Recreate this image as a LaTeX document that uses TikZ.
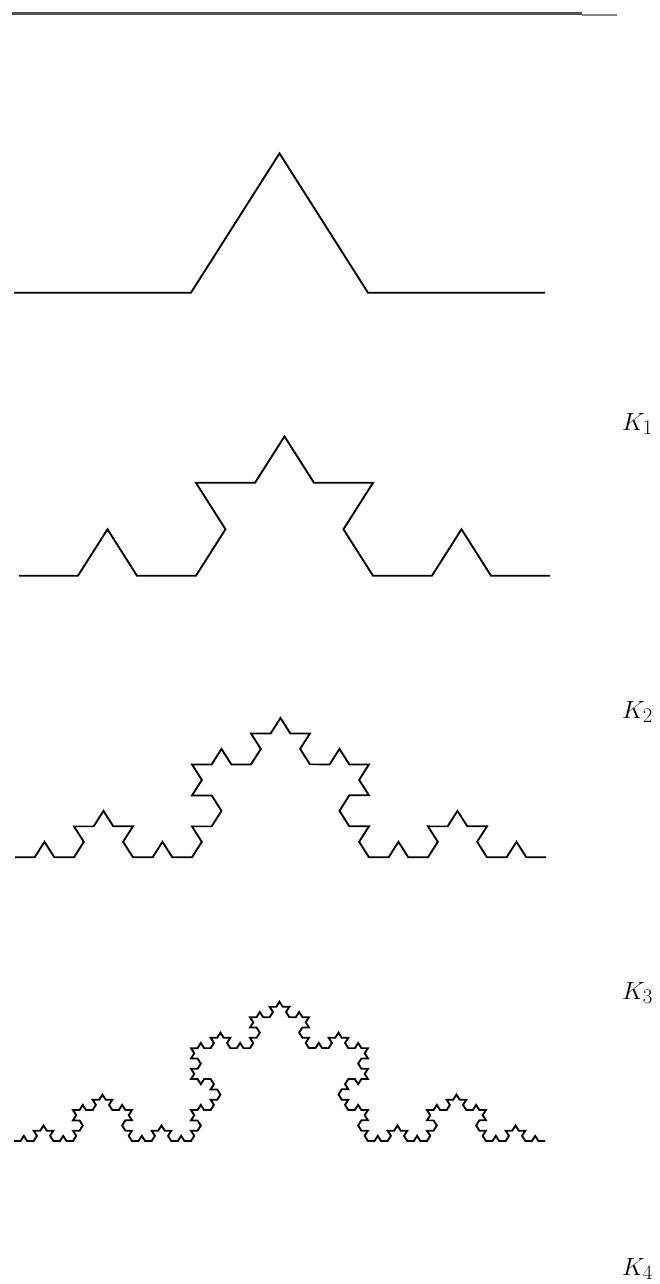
\documentclass[tikz,border=0pt]{standalone}
\usetikzlibrary{decorations.fractals}
\tikzset{
  koch/.style={line width=1.9pt, black, decoration=Koch snowflake},
  lab/.style={anchor=base west, inner sep=0pt, font=\fontsize{24.88}{30}\selectfont},
  rulemain/.style={line width=2.2pt, color=black!68},
  ruletail/.style={line width=1.6pt, color=black!48}
}
% one Koch curve of width 531pt, flattened vertically by 0.909,
% with its base line at page pixel row #2 (y downwards)
\newcommand{\kochlevel}[3]{%
  \begin{scope}[transform canvas={shift={(0pt,-#2pt)}, yscale=0.909}]
    #3
  \end{scope}}
\begin{document}
\begin{tikzpicture}[x=1pt, y=-1pt]
  \useasboundingbox (0,0) rectangle (660,1284);

  % top rule
  \draw[rulemain] (12,13.6) -- (582,13.6);
  \draw[ruletail] (582,14.8) -- (617,14.8);

  % first iteration
  \kochlevel{14}{292.7}{%
    \draw[koch] decorate{ (14pt,0pt) -- (545pt,0pt) };}

  % second iteration
  \kochlevel{19}{575.7}{%
    \draw[koch] decorate{ decorate{ (19pt,0pt) -- (550pt,0pt) }};}

  % third iteration
  \kochlevel{15}{857.3}{%
    \draw[koch] decorate{ decorate{ decorate{ (15pt,0pt) -- (546pt,0pt) }}};}

  % fourth iteration
  \kochlevel{14}{1141}{%
    \draw[koch] decorate{ decorate{ decorate{ decorate{ (14pt,0pt) -- (545pt,0pt) }}}};}

  % labels
  \node[lab] (k1) at (622,430)  {$K_1$};
  \node[lab] (k2) at (622,718)  {$K_2$};
  \node[lab] (k3) at (622,999)  {$K_3$};
  \node[lab] (k4) at (622,1275) {$K_4$};
\end{tikzpicture}
\end{document}
